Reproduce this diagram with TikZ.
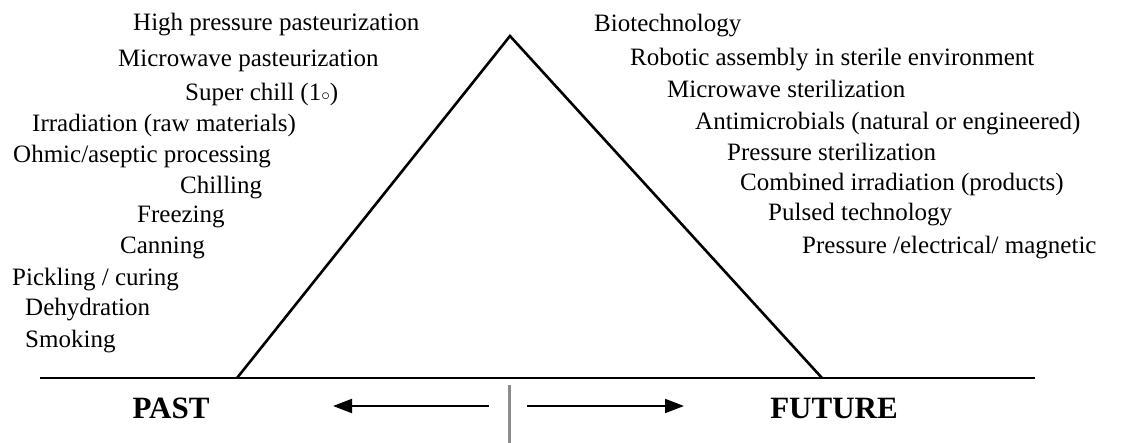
\documentclass[tikz,border=0pt]{standalone}
\usepackage{fontspec}
\setmainfont{Liberation Serif}
\usetikzlibrary{arrows.meta}
\tikzset{
  item/.style={anchor=base west, inner sep=0pt, font=\fontsize{25}{30}\selectfont},
  era/.style={anchor=base, inner sep=0pt, font=\fontsize{31}{36}\selectfont\bfseries},
  edge/.style={line width=2.6pt, line join=miter},
  ground/.style={line width=2pt},
  timearrow/.style={line width=2pt, -{Triangle[length=19pt,width=14pt]}},
  divider/.style={line width=3pt, draw=black!45}
}
\begin{document}
\begin{tikzpicture}[x=1pt,y=-1pt]
\useasboundingbox (0,0) rectangle (1142,443);
% structure
\coordinate (gl) at (40,378);
\coordinate (gr) at (1035,378);
\coordinate (tl) at (237,378);
\coordinate (ta) at (510,36);
\coordinate (tr) at (822,378);
\coordinate (dt) at (509,385);
\coordinate (db) at (509,443);
\coordinate (la0) at (489,406);
\coordinate (la1) at (333,406);
\coordinate (ra0) at (527,406);
\coordinate (ra1) at (684,406);
\draw[ground] (gl) -- (gr);
\draw[edge] (tl) -- (ta) -- (tr);
\draw[divider] (dt) -- (db);
\draw[timearrow] (la0) -- (la1);
\draw[timearrow] (ra0) -- (ra1);
% left texts
\node[item] (p1) at (133,31) {High pressure pasteurization};
\node[item] (p2) at (118,67) {Microwave pasteurization};
\node[item] (p3) at (185,101) {Super chill (1$\scriptstyle\circ$)};
\node[item] (p4) at (32,132) {Irradiation (raw materials)};
\node[item] (p5) at (13,163) {Ohmic/aseptic processing};
\node[item] (p6) at (180,194) {Chilling};
\node[item] (p7) at (137,223) {Freezing};
\node[item] (p8) at (120,254) {Canning};
\node[item] (p9) at (12,286) {Pickling / curing};
\node[item] (p10) at (25,316) {Dehydration};
\node[item] (p11) at (25,347) {Smoking};
% right texts
\node[item] (f1) at (594,32) {Biotechnology};
\node[item] (f2) at (630,66) {Robotic assembly in sterile environment};
\node[item] (f3) at (667,98) {Microwave sterilization};
\node[item] (f4) at (695,130) {Antimicrobials (natural or engineered)};
\node[item] (f5) at (727,161) {Pressure sterilization};
\node[item] (f6) at (740,191) {Combined irradiation (products)};
\node[item] (f7) at (768,221) {Pulsed technology};
\node[item] (f8) at (802,254) {Pressure /electrical/ magnetic};
% era labels
\node[era] (past) at (171,418) {PAST};
\node[era] (future) at (834,418) {FUTURE};
\end{tikzpicture}
\end{document}
